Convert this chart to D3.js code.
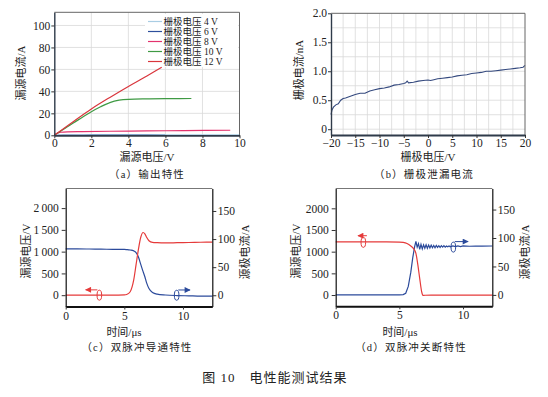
<!DOCTYPE html>
<html>
<head>
<meta charset="utf-8">
<script src="https://cdn.jsdelivr.net/npm/d3@7"></script>
<style>
body { margin: 0; background: #fff; }
svg text { font-family: "Liberation Serif", "Noto Sans CJK SC", serif; fill: #222; }
</style>
</head>
<body>
<script>
// (a) output characteristics, [Vds, Id]
var gateLabels = ['栅极电压 4 V', '栅极电压 6 V', '栅极电压 8 V', '栅极电压 10 V', '栅极电压 12 V'];
var gateColors = ['#a9cde3', '#2d4f9c', '#e3336e', '#3f9a44', '#d9353c'];
var out4V = [[0, 0], [2, 0.1], [4, 0.2], [6, 0.3], [8, 0.4], [10, 0.5]];
var out6V = [[0, 0], [0.5, 0.2], [2, 0.3], [4, 0.4], [6, 0.45]];
var out8V = [[0, 0], [0.15, 1.8], [0.35, 2.8], [0.7, 3.2], [1.5, 3.4], [3, 3.7], [5, 4.0], [7, 4.3], [9.5, 4.6]];
var out10V = [[0, 0], [0.5, 5.5], [1, 11], [1.5, 16.2], [2, 21.5], [2.5, 26], [3, 29.8], [3.5, 32], [4, 32.8], [5, 33.2], [6, 33.4], [7.4, 33.5]];
var out12V = [[0, 0], [1, 12.2], [2, 24], [3, 34.5], [4, 44.5], [5, 54], [5.5, 59], [5.8, 62]];

// (b) gate leakage
var leakV = [-20, -19.8, -19.5, -19, -18.5, -18, -17.5, -17, -16, -15, -14, -13, -12, -11, -10, -9, -8, -7, -6, -5, -4.6, -4.3, -4, -3, -2, -1, 0, 0.5, 1, 2, 3, 4, 5, 6, 7, 8, 9, 10, 11, 12, 13, 14, 15, 16, 17, 18, 19, 19.6, 20];
var leakI = [0.25, 0.33, 0.38, 0.42, 0.44, 0.50, 0.53, 0.54, 0.57, 0.60, 0.62, 0.62, 0.66, 0.68, 0.70, 0.71, 0.73, 0.76, 0.77, 0.79, 0.80, 0.83, 0.80, 0.81, 0.83, 0.84, 0.85, 0.84, 0.85, 0.87, 0.88, 0.89, 0.90, 0.92, 0.93, 0.94, 0.96, 0.97, 0.98, 1.00, 1.00, 1.01, 1.02, 1.03, 1.04, 1.05, 1.06, 1.07, 1.10];

// (c) double pulse turn-on
var tOn = [0, 1, 2, 3, 4, 5, 5.2, 5.5, 5.8, 6.0, 6.2, 6.4, 6.6, 6.75, 6.9, 7.1, 7.4, 7.8, 8.5, 9.5, 10.5, 11.5, 12.5];
var vOn = [0, 0, 0, 0, 0, 5, 15, 80, 350, 700, 1050, 1330, 1440, 1410, 1330, 1250, 1212, 1205, 1200, 1205, 1210, 1215, 1220];
var iOn = [82.5, 82.5, 82.3, 82, 81.8, 81.5, 81.2, 80.5, 79, 76, 68, 55, 42, 33, 22, 12, 5, 2, 0.5, -0.5, -1, -1.5, -1.5];

// (d) double pulse turn-off
var tOffV = [0, 1, 2, 3, 4, 5, 5.3, 5.6, 5.9, 6.1, 6.3, 6.45, 6.6, 6.75, 6.85, 7.0, 7.5, 8, 9, 10, 11, 12.3];
var vOff = [1225, 1225, 1225, 1225, 1225, 1222, 1215, 1190, 1130, 1075, 960, 700, 380, 80, -10, -5, 0, 0, 0, 0, 0, 0];
var tOffI = [0, 1, 2, 3, 4, 5, 5.3, 5.5, 5.7, 5.9, 6.05, 6.2, 6.3, 6.4, 6.5, 6.6, 6.7, 6.8, 6.9, 7.0, 7.1, 7.2, 7.3, 7.4, 7.5, 7.6, 7.7, 7.8, 7.9, 8.0, 8.1, 8.2, 8.3, 8.4, 8.5, 8.6, 8.7, 8.8, 8.9, 9.0, 9.2, 9.4, 9.6, 9.8, 10, 10.5, 11, 11.5, 12.3];
var iOff = [0, 0, 0, 0, 0, 0, 0.5, 3, 15, 40, 65, 85, 94, 84, 90, 80, 89, 81, 88, 82, 88, 82, 87.5, 82.5, 87.5, 83, 87, 83, 87, 83.5, 86.5, 83.5, 86.5, 84, 86.5, 84, 86, 84.5, 86, 84.5, 86, 85, 86, 85, 86, 85.5, 86, 85.8, 86];

// markers: [t, value]
var markC = {red: [2.87, 0], redArrow: [2.7, 1.7, 122], blue: [9.46, 0], blueArrow: [9.6, 10.6, 9.4]};
var markD = {red: [2.17, 1215], redArrow: [2.45, 1.75, 1368], blue: [9.24, 84], blueArrow: [9.35, 10.4, 93.7]};

var tickFont = 11.5;
var red = '#e53a3a', blue = '#2b4a9b';

var svg = d3.select('body').append('svg')
    .attr('width', 548)
    .attr('height', 397);

var defs = svg.append('defs');
[['arRed', red], ['arBlue', blue]].forEach(function(m) {
    defs.append('marker')
        .attr('id', m[0])
        .attr('viewBox', '0 0 10 10')
        .attr('refX', 9).attr('refY', 5)
        .attr('markerWidth', 7).attr('markerHeight', 6)
        .attr('markerUnits', 'userSpaceOnUse')
        .attr('orient', 'auto')
        .append('path')
        .attr('d', 'M0,0L10,5L0,10z')
        .attr('fill', m[1]);
});

function styleAxis(g) {
    g.selectAll('text').attr('font-size', tickFont).attr('font-family', null).attr('fill', '#222');
    g.selectAll('line').attr('stroke', '#333');
}

function txt(x, y, s, size, rot) {
    var t = svg.append('text')
        .attr('text-anchor', 'middle')
        .attr('dominant-baseline', 'central')
        .attr('font-size', size)
        .text(s);
    if (rot) {
        t.attr('transform', 'translate(' + x + ',' + y + ') rotate(-90)');
    } else {
        t.attr('x', x).attr('y', y);
    }
    return t;
}

function gridFrame(x, y, xs, ys) {
    var g = svg.append('g');
    g.selectAll('.gx').data(xs).enter().append('line')
        .attr('x1', function(d) { return x(d); }).attr('x2', function(d) { return x(d); })
        .attr('y1', y.range()[0]).attr('y2', y.range()[1])
        .attr('stroke', '#d9d9d9').attr('stroke-width', 0.8);
    g.selectAll('.gy').data(ys).enter().append('line')
        .attr('y1', function(d) { return y(d); }).attr('y2', function(d) { return y(d); })
        .attr('x1', x.range()[0]).attr('x2', x.range()[1])
        .attr('stroke', '#d9d9d9').attr('stroke-width', 0.8);
}

function frameLines(x, y, topColor) {
    var x0 = x.range()[0], x1 = x.range()[1], yb = y.range()[0], yt = y.range()[1];
    svg.append('line').attr('x1', x0).attr('x2', x1).attr('y1', yt).attr('y2', yt)
        .attr('stroke', topColor).attr('stroke-width', 1);
    svg.append('line').attr('x1', x1).attr('x2', x1).attr('y1', yt).attr('y2', yb)
        .attr('stroke', topColor).attr('stroke-width', 1);
}

// ---------- (a) ----------
var xa = d3.scaleLinear().domain([0, 10]).range([54.3, 239.5]);
var ya = d3.scaleLinear().domain([0, 112]).range([135.3, 12.3]);
gridFrame(xa, ya, [2, 4, 6, 8], [20, 40, 60, 80, 100]);

var lineA = d3.line()
    .x(function(d) { return xa(d[0]); })
    .y(function(d) { return ya(d[1]); })
    .curve(d3.curveMonotoneX);

// legend background
svg.append('rect').attr('x', 145).attr('y', 14).attr('width', 93).attr('height', 53).attr('fill', '#fff');

var drawOrder = [1, 0, 2, 3, 4];
var series = [out4V, out6V, out8V, out10V, out12V];
drawOrder.forEach(function(i) {
    svg.append('path').attr('d', lineA(series[i])).attr('fill', 'none')
        .attr('stroke', gateColors[i]).attr('stroke-width', 1.2);
});

frameLines(xa, ya, '#666');
svg.append('g').attr('transform', 'translate(0,' + ya.range()[0] + ')')
    .call(d3.axisBottom(xa).tickValues([0, 2, 4, 6, 8, 10]).tickSize(3).tickSizeOuter(0).tickPadding(1))
    .call(styleAxis)
    .select('.domain').attr('stroke', '#2f3b4a').attr('stroke-width', 1.8);
svg.append('g').attr('transform', 'translate(' + xa.range()[0] + ',0)')
    .call(d3.axisLeft(ya).tickValues([0, 20, 40, 60, 80, 100]).tickSize(3).tickSizeOuter(0).tickPadding(1))
    .call(styleAxis)
    .select('.domain').attr('stroke', '#2f3b4a').attr('stroke-width', 1.4);

var leg = svg.append('g');
gateLabels.forEach(function(lab, i) {
    var yy = 21.5 + i * 10;
    leg.append('line').attr('x1', 148).attr('x2', 162).attr('y1', yy).attr('y2', yy)
        .attr('stroke', gateColors[i]).attr('stroke-width', 1.2);
    leg.append('text').attr('x', 163.5).attr('y', yy).attr('dominant-baseline', 'central')
        .attr('font-size', 9.5).text(lab);
});

txt(147, 157, '漏源电压/V', 11);
txt(21, 73, '漏源电流/A', 11, true);
txt(147, 174, '（a）输出特性', 10.5).attr('letter-spacing', 1.2);

// ---------- (b) ----------
var xb = d3.scaleLinear().domain([-20, 20]).range([331, 525]);
var yb = d3.scaleLinear().domain([-0.1, 2.0]).range([135, 13.3]);
gridFrame(xb, yb, d3.range(-17.5, 20, 2.5), d3.range(0, 2, 0.25));

var leak = leakV.map(function(v, i) { return [v, leakI[i]]; });
svg.append('path')
    .attr('d', d3.line().x(function(d) { return xb(d[0]); }).y(function(d) { return yb(d[1]); })(leak))
    .attr('fill', 'none').attr('stroke', '#34497e').attr('stroke-width', 1.1);

frameLines(xb, yb, '#666');
svg.append('g').attr('transform', 'translate(0,' + yb.range()[0] + ')')
    .call(d3.axisBottom(xb).tickValues([-20, -15, -10, -5, 0, 5, 10, 15, 20]).tickSize(3).tickSizeOuter(0).tickPadding(1)
        .tickFormat(function(d) { return d < 0 ? '\u2212' + Math.abs(d) : d; }))
    .call(styleAxis)
    .select('.domain').attr('stroke', '#2f3b4a').attr('stroke-width', 1.8);
svg.append('g').attr('transform', 'translate(' + xb.range()[0] + ',0)')
    .call(d3.axisLeft(yb).tickValues([0, 0.5, 1.0, 1.5, 2.0]).tickSize(3).tickSizeOuter(0).tickPadding(1)
        .tickFormat(function(d) { return d === 0 ? '0' : d3.format('.1f')(d); }))
    .call(styleAxis)
    .select('.domain').attr('stroke', '#2f3b4a').attr('stroke-width', 1.4);

txt(428, 157, '栅极电压/V', 11);
txt(299, 70, '栅极电流/nA', 11, true);
txt(424, 174, '（b）栅极泄漏电流', 10.5).attr('letter-spacing', 1.2);

// ---------- (c) and (d) ----------
function pulsePanel(cfg) {
    var x = d3.scaleLinear().domain(cfg.tDom).range(cfg.xr);
    var yL = d3.scaleLinear().domain(cfg.vDom).range([cfg.yb, cfg.yt]);
    var yR = d3.scaleLinear().domain(cfg.iDom).range([cfg.yb, cfg.yt]);

    svg.append('line').attr('x1', cfg.xr[0]).attr('x2', cfg.xr[1]).attr('y1', cfg.yt).attr('y2', cfg.yt)
        .attr('stroke', '#777').attr('stroke-width', 1);

    var vPts = cfg.tV.map(function(t, i) { return [t, cfg.v[i]]; });
    var iPts = cfg.tI.map(function(t, i) { return [t, cfg.i[i]]; });
    svg.append('path')
        .attr('d', d3.line().x(function(d) { return x(d[0]); }).y(function(d) { return yR(d[1]); }).curve(cfg.curve)(iPts))
        .attr('fill', 'none').attr('stroke', blue).attr('stroke-width', 1.2);
    svg.append('path')
        .attr('d', d3.line().x(function(d) { return x(d[0]); }).y(function(d) { return yL(d[1]); }).curve(d3.curveMonotoneX)(vPts))
        .attr('fill', 'none').attr('stroke', red).attr('stroke-width', 1.2);

    // axes
    svg.append('g').attr('transform', 'translate(0,' + cfg.yb + ')')
        .call(d3.axisBottom(x).tickValues([0, 5, 10]).tickSize(3).tickSizeOuter(0).tickPadding(2))
        .call(styleAxis)
        .select('.domain').attr('stroke', '#111').attr('stroke-width', 2);
    svg.append('g').attr('transform', 'translate(' + cfg.xr[0] + ',0)')
        .call(d3.axisLeft(yL).tickValues([0, 500, 1000, 1500, 2000]).tickSize(4).tickSizeOuter(0).tickPadding(3)
            .tickFormat(cfg.vFmt))
        .call(styleAxis)
        .select('.domain').attr('stroke', '#111').attr('stroke-width', 1.2);
    svg.append('g').attr('transform', 'translate(' + cfg.xr[1] + ',0)')
        .call(d3.axisRight(yR).tickValues([0, 50, 100, 150]).tickSize(4).tickSizeOuter(0).tickPadding(1.5))
        .call(styleAxis)
        .select('.domain').attr('stroke', '#111').attr('stroke-width', 1.2);

    // ellipse + arrow markers
    var m = cfg.mark;
    svg.append('ellipse').attr('cx', x(m.red[0])).attr('cy', yL(m.red[1])).attr('rx', 2.3).attr('ry', 5)
        .attr('fill', 'none').attr('stroke', red).attr('stroke-width', 1);
    svg.append('line').attr('x1', x(m.redArrow[0])).attr('x2', x(m.redArrow[1]))
        .attr('y1', yL(m.redArrow[2])).attr('y2', yL(m.redArrow[2]))
        .attr('stroke', red).attr('stroke-width', 1).attr('marker-end', 'url(#arRed)');
    svg.append('ellipse').attr('cx', x(m.blue[0])).attr('cy', yR(m.blue[1])).attr('rx', 2.3).attr('ry', 5)
        .attr('fill', 'none').attr('stroke', blue).attr('stroke-width', 1);
    svg.append('line').attr('x1', x(m.blueArrow[0])).attr('x2', x(m.blueArrow[1]))
        .attr('y1', yR(m.blueArrow[2])).attr('y2', yR(m.blueArrow[2]))
        .attr('stroke', blue).attr('stroke-width', 1).attr('marker-end', 'url(#arBlue)');

    txt(cfg.titleX, 331.5, '时间/μs', 11);
    txt(cfg.xr[0] - 40, 251, '漏源电压/V', 11, true);
    txt(cfg.xr[1] + 33, 252, '源极电流/A', 11, true);
    txt(cfg.capX, 347, cfg.caption, 10.5).attr('letter-spacing', 1.2);
}

pulsePanel({
    tDom: [0, 12.5], xr: [65.7, 212.3], yb: 306.5, yt: 188.5,
    vDom: [-260, 2450], iDom: [-20, 190],
    tV: tOn, v: vOn, tI: tOn, i: iOn, curve: d3.curveMonotoneX,
    vFmt: function(d) { return d3.format(',')(d).replace(',', '\u2009'); },
    mark: markC, titleX: 124, capX: 137, caption: '（c）双脉冲导通特性'
});

pulsePanel({
    tDom: [0, 12.3], xr: [335.7, 492.3], yb: 306.3, yt: 188.5,
    vDom: [-260, 2457], iDom: [-20, 187],
    tV: tOffV, v: vOff, tI: tOffI, i: iOff, curve: d3.curveLinear,
    vFmt: function(d) { return String(d); },
    mark: markD, titleX: 400, capX: 411, caption: '（d）双脉冲关断特性'
});

txt(275, 377, '图 10\u3000电性能测试结果', 13).attr('letter-spacing', 1);
</script>
</body>
</html>
